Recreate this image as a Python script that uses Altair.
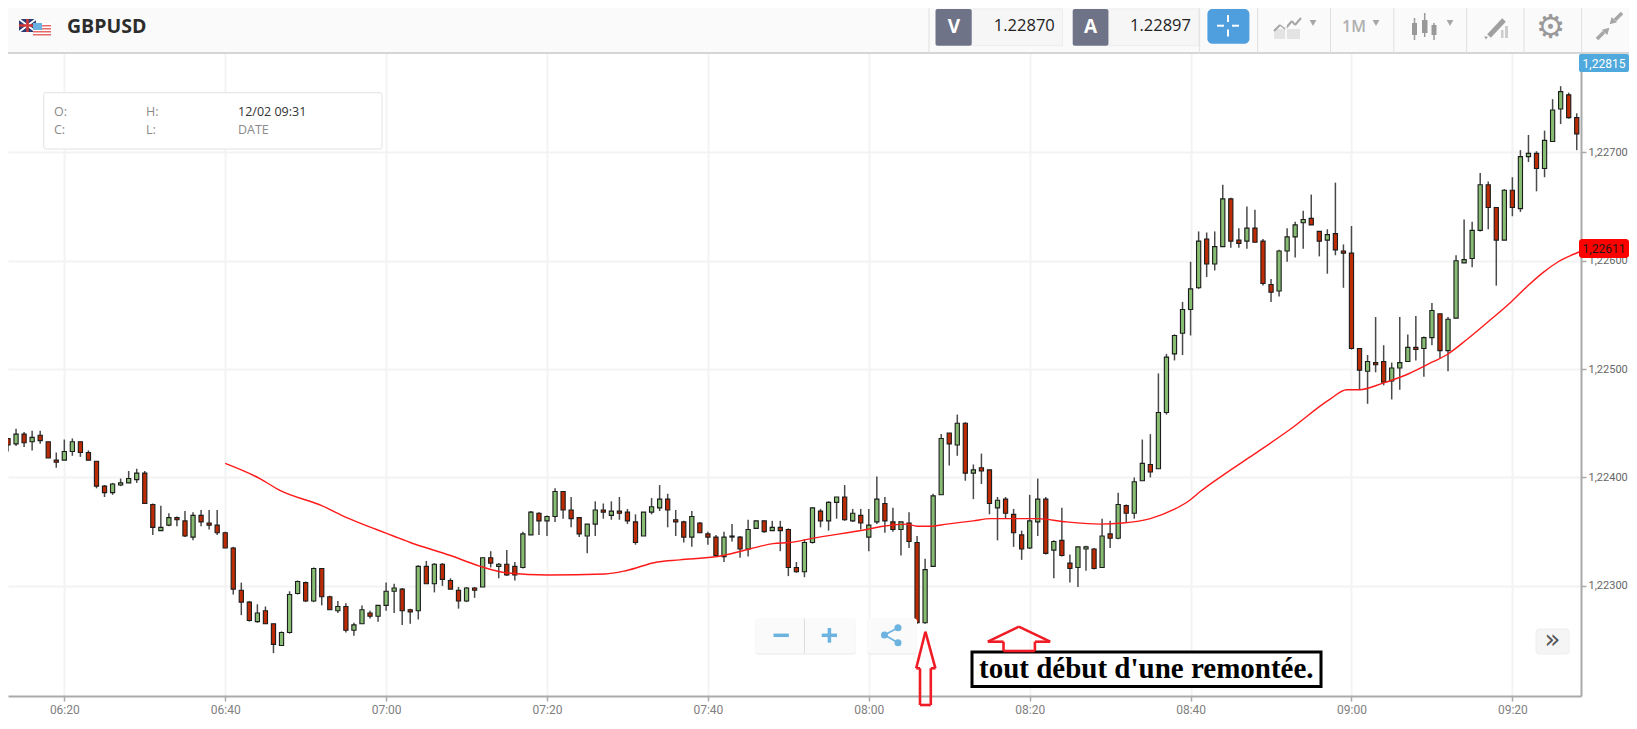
import altair as alt
import pandas as pd

# Prices are stored as points above 1.00000 (1 point = 0.00001); one candle per minute.
first_minute = 373
opens = [22436,22431,22440,22433,22439,22433,22416,
 22416,22424,22433,22423,22415,22392,22386,22393,22395,22398,
 22404,22375,22351,22356,22363,22360,22345,22365,22358,22356,
 22349,22335,22296,22285,22267,22277,22265,22245,22257,22293,
 22303,22286,22316,22290,22277,22281,22259,22265,22275,22272,
 22282,22295,22297,22278,22277,22318,22302,22320,22305,22296,
 22286,22298,22299,22326,22318,22320,22318,22317,22347,22367,
 22360,22364,22387,22370,22363,22346,22357,22370,22365,22369,
 22368,22359,22346,22368,22372,22380,22361,22359,22345,22358,
 22348,22345,22327,22345,22345,22334,22353,22360,22351,22354,
 22352,22317,22313,22340,22369,22360,22377,22382,22360,22365,
 22345,22359,22376,22359,22352,22358,22340,22266,22318,22384,
 22441,22430,22450,22404,22409,22407,22372,22380,22366,22347,
 22335,22359,22380,22333,22342,22321,22317,22334,22334,22317,
 22348,22344,22374,22367,22397,22412,22408,22460,22514,22533,
 22555,22575,22620,22597,22613,22657,22619,22618,22630,22618,
 22578,22572,22609,22622,22635,22639,22627,22619,22625,22609,
 22607,22519,22498,22506,22507,22489,22501,22507,22520,22519,
 22529,22551,22517,22547,22598,22602,22628,22670,22649,22619,
 22665,22648,22696,22699,22685,22710,22740,22753,22732]
closes = [22430,22440,22432,22437,22434,22418,22414,
 22424,22433,22423,22416,22392,22386,22394,22395,22399,22404,
 22376,22354,22354,22363,22361,22346,22365,22359,22356,22349,
 22335,22297,22285,22268,22275,22265,22246,22257,22292,22304,
 22286,22316,22290,22278,22281,22259,22264,22278,22272,22282,
 22295,22298,22277,22276,22318,22302,22320,22306,22297,22286,
 22298,22296,22326,22321,22320,22310,22310,22348,22368,22360,
 22364,22387,22370,22362,22348,22357,22370,22368,22369,22367,
 22360,22340,22368,22373,22380,22370,22359,22345,22364,22349,
 22345,22328,22345,22346,22334,22352,22360,22350,22354,22351,
 22317,22313,22340,22372,22360,22377,22382,22361,22367,22358,
 22356,22380,22360,22352,22359,22341,22266,22315,22383,22436,
 22431,22450,22404,22407,22406,22376,22379,22367,22349,22334,
 22360,22380,22330,22341,22328,22316,22336,22336,22316,22346,
 22344,22375,22367,22396,22413,22405,22460,22511,22531,22555,
 22574,22618,22597,22613,22657,22618,22616,22630,22617,22579,
 22571,22609,22622,22633,22638,22633,22618,22624,22610,22607,
 22519,22499,22507,22504,22488,22501,22506,22520,22518,22529,
 22554,22517,22546,22600,22601,22628,22670,22649,22619,22665,
 22649,22696,22699,22685,22711,22739,22756,22732,22717]
highs = [22436,22445,22442,22443,22443,22433,22423,
 22435,22436,22433,22425,22415,22393,22395,22399,22406,22408,
 22406,22376,22374,22367,22364,22369,22368,22370,22370,22370,
 22350,22336,22303,22286,22283,22281,22265,22258,22295,22305,
 22304,22317,22316,22291,22286,22284,22266,22282,22277,22282,
 22303,22302,22298,22279,22319,22323,22321,22321,22307,22299,
 22299,22299,22326,22332,22321,22333,22322,22350,22369,22368,
 22365,22390,22387,22382,22363,22357,22378,22376,22378,22382,
 22371,22366,22368,22381,22393,22385,22370,22360,22369,22359,
 22350,22347,22350,22357,22346,22361,22360,22360,22360,22360,
 22353,22322,22343,22372,22371,22378,22382,22393,22371,22371,
 22371,22401,22382,22372,22359,22368,22346,22325,22385,22440,
 22441,22458,22451,22412,22422,22407,22382,22382,22371,22351,
 22384,22399,22382,22342,22372,22329,22336,22337,22335,22362,
 22360,22386,22375,22400,22435,22440,22496,22514,22532,22562,
 22599,22627,22626,22627,22670,22658,22630,22650,22647,22620,
 22583,22610,22630,22636,22646,22661,22627,22629,22672,22615,
 22632,22519,22513,22548,22522,22506,22548,22532,22549,22530,
 22561,22551,22548,22605,22638,22636,22681,22673,22649,22666,
 22677,22702,22716,22701,22720,22749,22761,22755,22736]
lows = [22424,22429,22428,22425,22431,22418,22409,
 22416,22420,22419,22416,22390,22382,22384,22392,22395,22395,
 22376,22347,22351,22355,22355,22345,22342,22355,22352,22347,
 22335,22292,22273,22267,22266,22265,22238,22245,22256,22292,
 22285,22285,22282,22278,22275,22257,22254,22265,22270,22267,
 22277,22275,22264,22265,22269,22302,22294,22300,22297,22279,
 22285,22289,22299,22317,22307,22309,22305,22316,22347,22347,
 22346,22359,22362,22354,22345,22330,22346,22362,22361,22361,
 22357,22338,22346,22366,22369,22354,22346,22340,22336,22349,
 22338,22327,22322,22341,22326,22327,22353,22349,22351,22332,
 22309,22312,22308,22339,22354,22351,22362,22360,22359,22352,
 22332,22357,22349,22350,22328,22335,22265,22265,22318,22384,
 22411,22420,22397,22380,22394,22366,22342,22362,22336,22324,
 22334,22346,22329,22307,22327,22303,22299,22314,22315,22317,
 22335,22343,22358,22362,22397,22400,22408,22458,22508,22513,
 22531,22574,22585,22591,22613,22612,22612,22611,22617,22577,
 22562,22567,22599,22603,22611,22633,22604,22588,22605,22575,
 22518,22481,22468,22497,22485,22472,22481,22507,22508,22493,
 22522,22510,22498,22547,22598,22594,22627,22629,22577,22619,
 22641,22645,22691,22664,22677,22710,22726,22731,22702]

ma_minutes = [400,404.3,406.8,412,415.1,418.8,420.9,423,428,431.7,435,440.1,447.2,449.8,453.7,456.5,
 461.9,465.2,468.1,470.2,473.1,479.7,481.8,484.7,486,487.6,489.7,493,495.1,500.9,504.6,508.7,
 511.6,515,517.8,519.9,521.2,524,527.4,532.3,537.3,539.4,541,543.9,546.9,550.2,551.8,554.3,
 557.2,559.7,561.8,563.8,565.7,568.3]
ma_points = [22413,22399,22388,22374,22363,22352,22346,22340,22328,22318,22312,22310,22311,22314,22322,22324,
 22328,22334,22339,22340,22344,22352,22355,22357,22355,22355,22357,22360,22362,22362,22359,22357,
 22358,22362,22370,22379,22387,22402,22419,22444,22472,22481,22481,22487,22495,22507,22513,22527,
 22545,22561,22576,22589,22599,22608]

x_ticks = [380,400,420,440,460,480,500,520,540,560]
y_ticks = [1.223,1.224,1.225,1.226,1.227]

candles = pd.DataFrame({
    "minute": range(first_minute, first_minute + len(opens)),
    "open": [1 + v / 1e5 for v in opens],
    "close": [1 + v / 1e5 for v in closes],
    "high": [1 + v / 1e5 for v in highs],
    "low": [1 + v / 1e5 for v in lows],
})
candles["dir"] = ["up" if c >= o else "down" for o, c in zip(opens, closes)]
ma = pd.DataFrame({"minute": ma_minutes, "price": [1 + v / 1e5 for v in ma_points]})

X0, Y0 = 8, 53          # plot origin in the picture
PW, PH = 1573, 643
x_scale = alt.Scale(domain=[373.0, 568.53], nice=False, zero=False, padding=0)
y_scale = alt.Scale(domain=[1.221984, 1.227916], nice=False, zero=False)
FONT = "Open Sans"
AX = "Roboto"

x_axis = alt.Axis(values=x_ticks, title=None, grid=True, gridColor="#f3f3f3", gridWidth=2,
                  domainColor="#aaaaaa", domainWidth=2, tickColor="#aaaaaa", tickWidth=1.5, tickSize=5,
                  labelColor="#808080", labelFont=AX, labelFontSize=12, labelPadding=3,
                  labelFlush=False, labelOverlap=False,
                  labelExpr="pad(floor(datum.value/60),2,'0','left')+':'+pad(datum.value%60,2,'0','left')")
y_axis = alt.Axis(values=y_ticks, title=None, orient="right", grid=True, gridColor="#f3f3f3", gridWidth=2,
                  domainColor="#aaaaaa", domainWidth=2, tickColor="#aaaaaa", tickWidth=1.5, tickSize=5,
                  labelColor="#666666", labelFont=AX, labelFontSize=11, labelPadding=2,
                  labelFlush=False, labelOverlap=False,
                  labelExpr="replace(format(datum.value,'.5f'),'.',',')")

base = alt.Chart(candles)
wicks = base.mark_rule(color="#4a4a4a", strokeWidth=1.5, clip=True).encode(
    x=alt.X("minute:Q", scale=x_scale, axis=x_axis),
    y=alt.Y("high:Q", scale=y_scale, axis=y_axis),
    y2="low:Q",
)
bodies = base.mark_bar(size=4.2, stroke="#1c1c1c", strokeWidth=1.1, clip=True).encode(
    x=alt.X("minute:Q", scale=x_scale),
    y=alt.Y("open:Q", scale=y_scale),
    y2="close:Q",
    color=alt.Color("dir:N", legend=None,
                    scale=alt.Scale(domain=["up", "down"], range=["#86bd72", "#bd2b05"])),
)
ma_line = alt.Chart(ma).mark_line(color="#ff1a1a", strokeWidth=1.4, interpolate="monotone").encode(
    x=alt.X("minute:Q", scale=x_scale),
    y=alt.Y("price:Q", scale=y_scale),
)

blank = alt.Data(values=[{}])

def rect(x0, y0, x1, y1, fill, stroke=None, sw=1, radius=0):
    kw = dict(fill=fill)
    if stroke:
        kw.update(stroke=stroke, strokeWidth=sw)
    if radius:
        kw.update(cornerRadius=radius)
    return alt.Chart(blank).mark_rect(**kw).encode(
        x=alt.value(x0 - X0), x2=alt.value(x1 - X0), y=alt.value(y0 - Y0), y2=alt.value(y1 - Y0))

def seg(x0, y0, x1, y1, color, sw=1.0):
    return alt.Chart(blank).mark_rule(color=color, strokeWidth=sw).encode(
        x=alt.value(x0 - X0), x2=alt.value(x1 - X0), y=alt.value(y0 - Y0), y2=alt.value(y1 - Y0))

def txt(x, y, s, size=12, color="#333333", font=FONT, weight="normal", align="left"):
    return alt.Chart(blank).mark_text(text=s, fontSize=size, color=color, font=font, fontWeight=weight,
                                      align=align, baseline="middle").encode(
        x=alt.value(x - X0), y=alt.value(y - Y0))

def pt(x, y, shape, size, color, angle=0):
    return alt.Chart(blank).mark_point(shape=shape, size=size, fill=color, color=color, filled=True,
                                       opacity=1, angle=angle).encode(
        x=alt.value(x - X0), y=alt.value(y - Y0))

def outline(points, color="#ef1c25", sw=2.6):
    out = []
    for (a, b) in zip(points, points[1:] + points[:1]):
        out.append(seg(a[0], a[1], b[0], b[1], color, sw))
    return out

ICON = "#a6a6a6"
chrome = [
    # toolbar
    rect(8, 8, 1629, 53, "#fafafa"),
    seg(8, 53, 1629, 53, "#c9c9c9", 1.5),
]
for sx in [929, 1199.6, 1257.6, 1330.5, 1393.8, 1466.7, 1524, 1581.6]:
    chrome.append(seg(sx, 8, sx, 53, "#e0e0e0", 1))
chrome += [
    # flags
    rect(19, 19, 36, 32, "#2b3a78"),
    seg(19, 19, 36, 32, "#ffffff", 2), seg(19, 32, 36, 19, "#ffffff", 2),
    seg(27.5, 19, 27.5, 32, "#d23a3a", 2.5), seg(19, 25.5, 36, 25.5, "#d23a3a", 2.5),
    rect(33, 23, 51, 36, "#ffffff"),
    rect(33, 25, 51, 26.5, "#e46a6a"), rect(33, 28, 51, 29.5, "#e46a6a"),
    rect(33, 31, 51, 32.5, "#e46a6a"), rect(33, 34, 51, 35.5, "#e46a6a"),
    rect(33, 23, 42, 30, "#6ab0e0"),
    txt(67, 26.5, "GBPUSD", size=19.5, color="#2c2c2c", weight=700),
    # bid / ask
    rect(971.7, 9, 1062.5, 45.7, "#f6f6f6", "#ececec"),
    rect(935.5, 9, 971.7, 45.7, "#6f7387", radius=2),
    txt(954, 26.5, "V", size=19, color="#ffffff", weight=700, align="center"),
    txt(1054.8, 26, "1.22870", size=16.5, color="#222222", align="right"),
    rect(1108.4, 9, 1198.7, 45.7, "#f6f6f6", "#ececec"),
    rect(1072.7, 9, 1108.4, 45.7, "#6f7387", radius=2),
    txt(1090.5, 26.5, "A", size=19, color="#ffffff", weight=700, align="center"),
    txt(1191, 26, "1.22897", size=16.5, color="#222222", align="right"),
    # crosshair button
    rect(1207.4, 9, 1249.4, 43.7, "#4f9fdf", radius=5),
    seg(1217, 25.7, 1224, 25.7, "#ffffff", 2), seg(1232, 25.7, 1239, 25.7, "#ffffff", 2),
    seg(1228, 15, 1228, 22, "#ffffff", 2), seg(1228, 29.5, 1228, 36.5, "#ffffff", 2),
    # drawing-type icon
    rect(1274, 29, 1300, 39, "#e4e4e4"),
    seg(1274, 31, 1280, 25, ICON, 2), seg(1280, 25, 1285, 29, ICON, 1.5),
    seg(1285, 29, 1292, 21, ICON, 2), seg(1292, 21, 1295, 25, ICON, 2),
    seg(1295, 25, 1301, 18, ICON, 2), seg(1286, 18, 1286, 39, "#ffffff", 1.5),
    pt(1313, 23, "triangle-down", 45, ICON),
    txt(1354, 26.5, "1M", size=16, color="#b0b0b0", weight=600, align="center"),
    pt(1376, 23, "triangle-down", 45, ICON),
    # candle icon
    seg(1414.5, 18, 1414.5, 40, "#999999", 1.5), rect(1412, 23, 1417, 35, "#999999"),
    seg(1424.7, 13, 1424.7, 37, "#999999", 1.5), rect(1422, 20, 1427.5, 33, "#999999"),
    seg(1434, 23, 1434, 40, "#999999", 1.5), rect(1431.5, 25, 1436.5, 35, "#999999"),
    pt(1450, 23, "triangle-down", 45, ICON),
    # pen icon
    rect(1501, 30, 1503.5, 38, "#cccccc"), rect(1505, 26, 1508, 38, "#cccccc"),
    seg(1489, 36, 1504, 20, "#a0a0a0", 5),
    pt(1486, 38, "triangle-down", 14, "#a0a0a0"),
    # gear
    txt(1550.5, 27.5, "\u2699", size=33, color="#9a9a9a", font="DejaVu Sans", align="center"),
    # shrink icon
    seg(1622, 13, 1615, 20, ICON, 3.5), pt(1612, 22, "triangle-down", 60, ICON, angle=45),
    seg(1597, 39, 1604, 32, ICON, 3.5), pt(1607, 30, "triangle-up", 60, ICON, angle=45),
    # info box
    rect(43.7, 92.7, 382, 149, "#ffffff", "#e2e2e2", 1, radius=2),
    txt(54, 112, "O:", size=12.5, color="#8a8a8a"),
    txt(146, 112, "H:", size=12.5, color="#8a8a8a"),
    txt(238, 112, "12/02 09:31", size=12.5, color="#333333"),
    txt(54, 130, "C:", size=12.5, color="#8a8a8a"),
    txt(146, 130, "L:", size=12.5, color="#8a8a8a"),
    txt(238, 130, "DATE", size=12.5, color="#8a8a8a"),
    # price tags
    rect(1579, 54, 1629, 72, "#4fa9dc", radius=2),
    txt(1604, 63.5, "1,22815", size=12, color="#ffffff", font=AX, align="center"),
    rect(1579, 239, 1629, 258, "#ff0000", radius=3),
    txt(1604, 249, "1,22611", size=12, color="#1a1a1a", font=AX, align="center"),
    # zoom buttons
    rect(755.5, 619, 855.8, 654.5, "#e9e9e9", radius=3),
    rect(755.5, 618.3, 855.8, 653.5, "#fafafa", radius=3),
    seg(804.5, 618.3, 804.5, 653.5, "#dddddd", 1),
    seg(773.5, 635.3, 788.8, 635.3, "#6db3e0", 3.5),
    seg(821.7, 635.3, 837, 635.3, "#6db3e0", 3.5),
    seg(829.4, 628, 829.4, 642.7, "#6db3e0", 3.5),
    rect(867, 619, 917, 654.5, "#e9e9e9", radius=3),
    rect(867, 618.3, 917, 653.5, "#fafafa", radius=3),
    seg(884.5, 635, 898, 627.7, "#6db3e0", 1.8),
    seg(884.5, 635, 898, 642.7, "#6db3e0", 1.8),
    pt(884.5, 635, "circle", 50, "#6db3e0"),
    pt(898, 627.7, "circle", 50, "#6db3e0"),
    pt(898, 642.7, "circle", 50, "#6db3e0"),
    rect(1536, 629, 1569, 654, "#f5f5f5", "#eeeeee", radius=3),
    txt(1552.5, 640, "\u00bb", size=26, color="#555555", font="DejaVu Sans", align="center"),
    # annotation box
    rect(972, 652, 1321, 686.5, "#ffffff", "#000000", 3),
    txt(979, 669, "tout d\u00e9but d'une remont\u00e9e.", size=29, color="#000000",
        font="Liberation Serif", weight="bold"),
]
# hand-drawn annotation arrows
chrome += outline([(925.4, 631.7), (935.4, 668.3), (930.8, 668.3), (930.8, 705),
                   (920, 705), (920, 668.3), (916.2, 668.3)])
chrome += outline([(1018.8, 626.7), (1050.2, 641.7), (1034.9, 641.7), (1034.9, 651),
                   (1003.5, 651), (1003.5, 641.7), (987.8, 641.7)])

chart = alt.layer(wicks, bodies, ma_line, *chrome).properties(
    width=PW, height=PH, background="#ffffff",
    padding={"left": 0, "top": 45, "right": 48, "bottom": 21},
    autosize=alt.AutoSizeParams(type="none"),
).configure_view(stroke=None)

chart.save("out.html", embed_options={"renderer": "svg", "actions": False})
